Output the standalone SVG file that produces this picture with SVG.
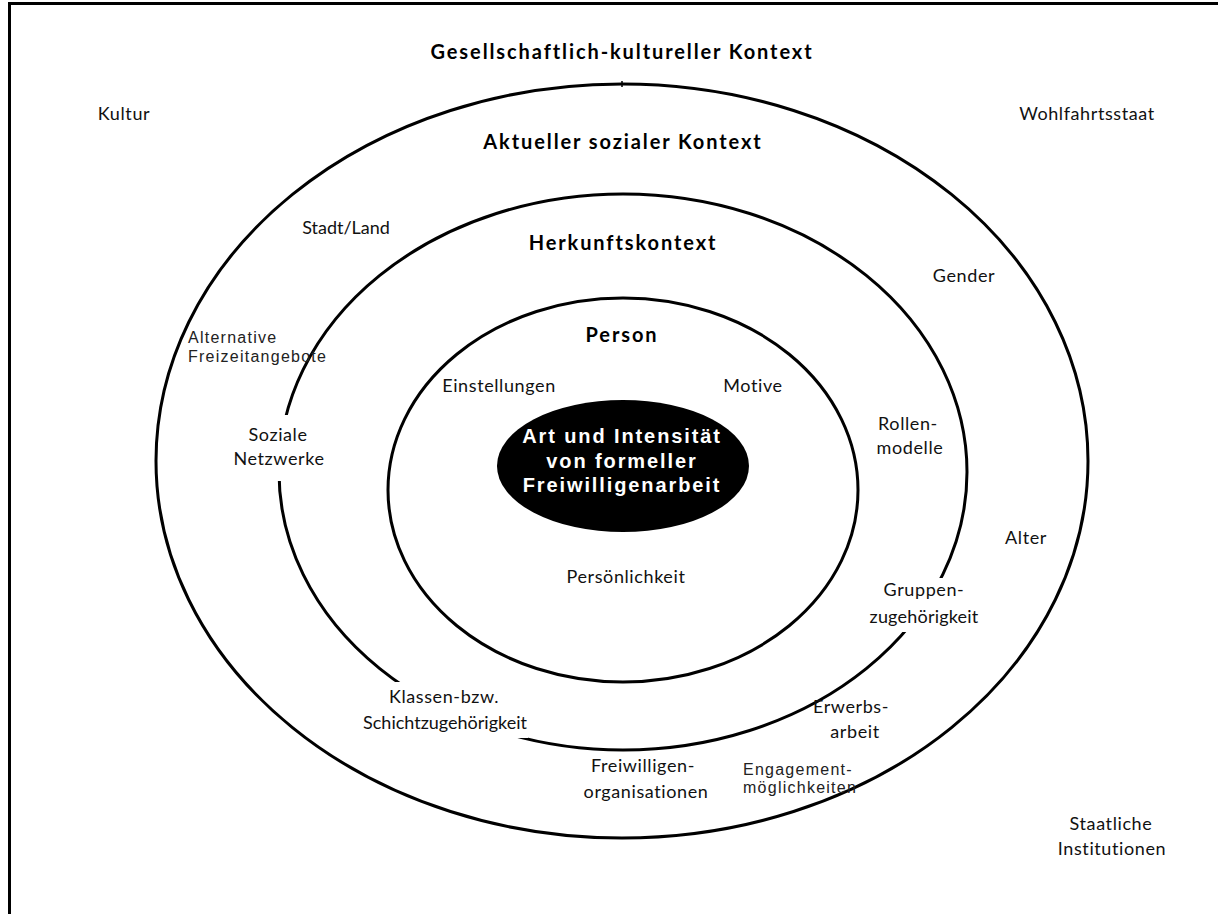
<svg xmlns="http://www.w3.org/2000/svg" width="1218" height="914" viewBox="0 0 1218 914">
<style>
.ring{fill:none;stroke:#000;stroke-width:3}
.lb{font-family:Lato,"Liberation Sans",sans-serif;font-size:18px;fill:#111;text-anchor:middle;letter-spacing:0.6px}
.hd{font-family:Lato,"Liberation Sans",sans-serif;font-size:20px;font-weight:bold;fill:#000;text-anchor:middle;letter-spacing:1.9px}
.sm{font-family:"Liberation Sans",Arial,sans-serif;font-size:16px;fill:#222;letter-spacing:1.25px}
.core{font-family:"Liberation Sans",Arial,sans-serif;font-size:20px;font-weight:bold;fill:#fff;text-anchor:middle;letter-spacing:1.9px}
.bg{fill:#fff}
</style>
<rect width="1218" height="914" fill="#fff"/>
<g id="frame"><path d="M9.5 1220 V3.5 H1230" fill="none" stroke="#000" stroke-width="3"/></g>
<g id="outer">
<ellipse class="ring" cx="622" cy="461" rx="466" ry="377"/>
<line x1="622" y1="81" x2="622" y2="87" stroke="#000" stroke-width="1.5"/>
</g>
<g id="middle"><ellipse class="ring" cx="623" cy="472" rx="344" ry="278"/></g>
<g id="inner"><ellipse class="ring" cx="623" cy="490" rx="235" ry="192"/></g>
<g id="core">
<ellipse cx="623" cy="466" rx="126" ry="66" fill="#000"/>
<text class="core" x="622" y="443">Art und Intensität</text>
<text class="core" x="622" y="468">von formeller</text>
<text class="core" x="622" y="492">Freiwilligenarbeit</text>
</g>
<g id="connectors"></g>
<g id="labels-outer">
<text class="hd" x="622" y="59">Gesellschaftlich-kultureller Kontext</text>
<text class="lb" x="124" y="120">Kultur</text>
<text class="lb" x="1087" y="120">Wohlfahrtsstaat</text>
<text class="lb" x="1111" y="830">Staatliche</text>
<text class="lb" x="1112" y="855">Institutionen</text>
</g>
<g id="labels-actual">
<text class="hd" x="623" y="149">Aktueller sozialer Kontext</text>
<text class="lb" x="346" y="234" style="letter-spacing:0">Stadt/Land</text>
<text class="lb" x="964" y="282">Gender</text>
<text class="sm" x="188" y="343">Alternative</text>
<text class="sm" x="188" y="362">Freizeitangebote</text>
<text class="lb" x="1026" y="544">Alter</text>
<text class="lb" x="851" y="713">Erwerbs-</text>
<text class="lb" x="855" y="738">arbeit</text>
<text class="lb" x="643" y="772">Freiwilligen-</text>
<text class="lb" x="646" y="798">organisationen</text>
<text class="sm" x="743" y="775">Engagement-</text>
<text class="sm" x="743" y="793">möglichkeiten</text>
</g>
<g id="labels-origin">
<text class="hd" x="623" y="250">Herkunftskontext</text>
<rect class="bg" x="230" y="415" width="100" height="66"/>
<text class="lb" x="278" y="441">Soziale</text>
<text class="lb" x="279" y="465">Netzwerke</text>
<text class="lb" x="908" y="430">Rollen-</text>
<text class="lb" x="910" y="454">modelle</text>
<rect class="bg" x="870" y="578" width="110" height="54"/>
<text class="lb" x="924" y="596">Gruppen-</text>
<text class="lb" x="924" y="623" style="letter-spacing:0.2px">zugehörigkeit</text>
<rect class="bg" x="362" y="682" width="166" height="56"/>
<text class="lb" x="444" y="703">Klassen-bzw.</text>
<text class="lb" x="445" y="729" style="letter-spacing:0">Schichtzugehörigkeit</text>
</g>
<g id="labels-person">
<text class="hd" x="622" y="342">Person</text>
<text class="lb" x="499" y="392">Einstellungen</text>
<text class="lb" x="753" y="392">Motive</text>
<text class="lb" x="626" y="583">Persönlichkeit</text>
</g>
</svg>
